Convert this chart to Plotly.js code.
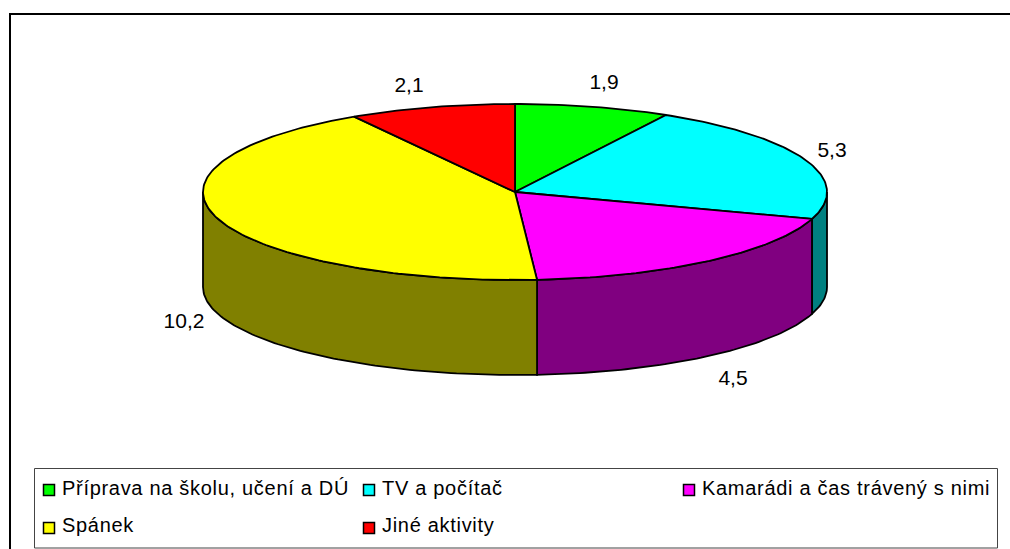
<!DOCTYPE html>
<html><head><meta charset="utf-8">
<script src="https://cdn.plot.ly/plotly-3.0.1.min.js"></script>
<style>html,body{margin:0;padding:0;background:#fff}#c{width:1010px;height:549px}
.scatterlayer .trace:last-child .textpoint text{letter-spacing:.7px}</style>
</head><body><div id="c"></div>
<script>
const categories = ["Příprava na školu, učení a DÚ","TV a počítač","Kamarádi a čas trávený s nimi","Spánek","Jiné aktivity"];
const values = [1.93,5.26,4.54,10.2,2.07];
const topColors = ["#00ff00","#00ffff","#ff00ff","#ffff00","#ff0000"];
const wallColors = ["#008000","#008080","#800080","#808000","#800000"];
const labelX = [604,409,832,733,184];
const labelY = [84,87,152,380,323];
const labelOrder = [0,4,1,2,3];

const cx=515, cy=192, rx=312, ry=88, depth=95;
const total = values.reduce((a,b)=>a+b,0);
const px = t => cx + rx*Math.sin(t);
const py = (t,d=0) => cy - ry*Math.cos(t) + d;
function arc(a,b,d=0){
  const n=Math.max(2,Math.ceil(Math.abs(b-a)/(Math.PI/180))), xs=[], ys=[];
  for(let i=0;i<=n;i++){const t=a+(b-a)*i/n; xs.push(px(t)); ys.push(py(t,d));}
  return [xs,ys];
}
const base={type:'scatter',mode:'lines',fill:'toself',hoverinfo:'skip',showlegend:false,line:{color:'#000',width:1.8}};
const walls=[], tops=[];
let cum=0;
values.forEach((v,i)=>{
  const a=cum/total*2*Math.PI, b=(cum+v)/total*2*Math.PI; cum+=v;
  const [tx,ty]=arc(a,b);
  tops.push({...base,x:[cx,...tx,cx],y:[cy,...ty,cy],fillcolor:topColors[i],name:categories[i]});
  const s=Math.max(a,Math.PI/2), e=Math.min(b,3*Math.PI/2);
  if(e>s){
    const [ux,uy]=arc(s,e), [lx,ly]=arc(e,s,depth);
    walls.push({...base,x:[...ux,...lx,ux[0]],y:[...uy,...ly,uy[0]],fillcolor:wallColors[i]});
  }
});
const fmt=v=>v.toFixed(1).replace('.',',');
const font={family:'"Liberation Sans", Arial, sans-serif',size:20,color:'#000'};
const labels={type:'scatter',mode:'text',hoverinfo:'skip',showlegend:false,
  x:labelX,y:labelY,text:labelOrder.map(i=>fmt(values[i])),textposition:'middle center',textfont:{...font,size:21},cliponaxis:false};
const legendCol=[49,369,689,49,369], legendRow=[490,490,490,528,528];
const legendSwatches={type:'scatter',mode:'markers',hoverinfo:'skip',showlegend:false,
  x:legendCol,y:legendRow,
  marker:{symbol:'square',size:11,color:topColors,line:{color:'#000',width:1.5}},cliponaxis:false};
const legendTexts={type:'scatter',mode:'text',hoverinfo:'skip',showlegend:false,
  x:legendCol.map(v=>v+13),y:[490,490,490,527,527],text:categories,textposition:'middle right',textfont:font,cliponaxis:false};
const layout={width:1010,height:549,margin:{l:0,r:0,t:0,b:0,pad:0},paper_bgcolor:'#fff',plot_bgcolor:'#fff',showlegend:false,
  xaxis:{range:[0,1010],visible:false,fixedrange:true},
  yaxis:{range:[549,0],visible:false,fixedrange:true},
  shapes:[
    {type:'rect',xref:'x',yref:'y',x0:10,y0:14,x1:1030,y1:570,line:{color:'#000',width:2},fillcolor:'#fff',layer:'below'},
    {type:'rect',xref:'x',yref:'y',x0:34.5,y0:468.5,x1:997.5,y1:548,line:{color:'#444',width:1},fillcolor:'#fff',layer:'below'}
  ]};
Plotly.newPlot('c',[...walls,...tops,labels,legendSwatches,legendTexts],layout,{displayModeBar:false,staticPlot:true});
</script></body></html>
